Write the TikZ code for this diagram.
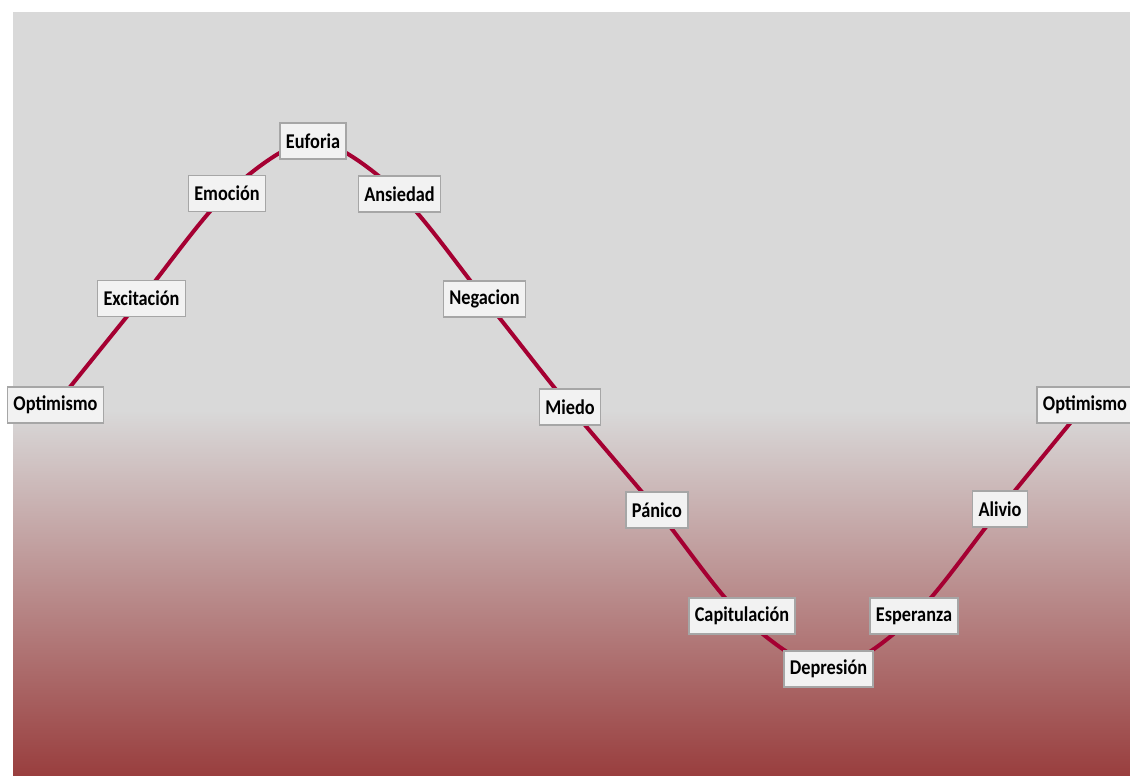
\documentclass[tikz,border=0pt]{standalone}
\usepackage{fontspec}
\setmainfont{Carlito}
\pgfdeclarelayer{bg}
\pgfdeclarelayer{curve}
\pgfsetlayers{bg,curve,main}
\definecolor{bggray}{RGB}{217,217,217}
\definecolor{bgred}{RGB}{153,62,62}
\definecolor{wave}{RGB}{165,0,50}
\definecolor{boxfill}{RGB}{242,242,242}
\definecolor{boxline}{RGB}{166,166,166}
\newcommand{\lbltxt}[1]{\scalebox{0.87}[1]{#1}}
\tikzset{
  lbl/.style={draw=boxline, line width=1.5pt, fill=boxfill, inner xsep=6pt, inner ysep=0pt,
    minimum height=36pt, font=\fontsize{21}{22}\selectfont\bfseries, text=black},
  waveline/.style={draw=wave, line width=4pt}
}
\begin{document}
\begin{tikzpicture}[x=1pt,y=-1pt]
\useasboundingbox (0,0) rectangle (1130,776);
\begin{pgfonlayer}{bg}
  \fill[bggray] (13,12) rectangle (1130,411);
  \shade[top color=bggray, bottom color=bgred] (13,410) rectangle (1130,776);
\end{pgfonlayer}
\node[lbl] (o1) at (55.5,405) {\lbltxt{Optimismo}};
\node[lbl] (ex) at (141.5,298.5) {\lbltxt{Excitación}};
\node[lbl] (em) at (227,193.5) {\lbltxt{Emoción}};
\node[lbl] (eu) at (313,141) {\lbltxt{Euforia}};
\node[lbl] (an) at (399.5,194) {\lbltxt{Ansiedad}};
\node[lbl] (ne) at (484.5,299) {\lbltxt{Negacion}};
\node[lbl] (mi) at (570,407) {\lbltxt{Miedo}};
\node[lbl] (pa) at (657,510) {\lbltxt{Pánico}};
\node[lbl] (ca) at (742,616) {\lbltxt{Capitulación}};
\node[lbl] (de) at (828.5,669) {\lbltxt{Depresión}};
\node[lbl] (es) at (914,616) {\lbltxt{Esperanza}};
\node[lbl] (al) at (1000,509) {\lbltxt{Alivio}};
\node[lbl] (o2) at (1085,405) {\lbltxt{Optimismo}};
\begin{pgfonlayer}{curve}
  \draw[waveline] plot[smooth, tension=0.5] coordinates {(o1) (ex) (em) (eu) (an) (ne) (mi) (pa) (ca) (de) (es) (al) (o2)};
\end{pgfonlayer}
\end{tikzpicture}
\end{document}
